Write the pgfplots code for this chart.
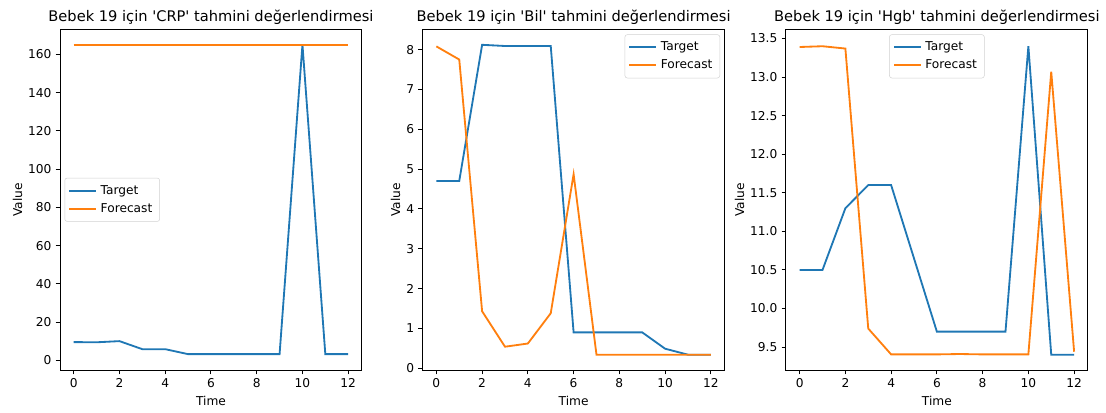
\documentclass[border=0pt]{standalone}
\usepackage{pgfplots}
\pgfplotsset{compat=1.18}
\usepackage{fontspec}
\setmainfont{DejaVu Sans}
\definecolor{tblue}{HTML}{1F77B4}
\definecolor{torange}{HTML}{FF7F0E}
\newcommand{\q}{\textquotesingle}
\pgfplotsset{
  panel/.style={
    scale only axis, width=247.6pt, height=279.6pt,
    anchor=south west,
    xmin=-0.6, xmax=12.6, xtick={0,2,...,12},
    tick align=outside, major tick length=3.5pt,
    xtick pos=left, ytick pos=left,
    every tick/.style={black, line width=0.8pt},
    axis line style={line width=0.8pt},
    tick label style={font=\fontsize{10}{12}\selectfont},
    /pgf/number format/assume math mode=true,
    label style={font=\fontsize{10}{12}\selectfont},
    xlabel={Time}, ylabel={Value},
    xlabel style={yshift=0pt},
    ylabel style={yshift=-2pt},
    every axis title/.style={font=\fontsize{12}{14}\selectfont, at={(0.5,1)}, anchor=south, yshift=0pt},
    legend cell align=left,
    legend style={draw=black!18, rounded corners=2pt, fill=white, fill opacity=0.8, text opacity=1,
      font=\fontsize{10}{12}\selectfont, inner xsep=3pt, inner ysep=3pt,
      nodes={inner sep=3pt}},
    legend image code/.code={\draw[#1, line width=1.5pt] (0pt,0pt) -- (22pt,0pt);},
    every axis plot/.append style={line width=1.5pt, mark=none},
  }
}
\begin{document}
\begin{tikzpicture}
\useasboundingbox (0,0) rectangle (907pt,338pt);
% CRP
\begin{axis}[panel, at={(49.2pt,34.4pt)},
  ymin=-5.1, ymax=173.1, ytick={0,20,...,160},
  title={Bebek 19 için \q CRP\q{} tahmini değerlendirmesi},
  legend style={at={(0.015,0.5)}, anchor=west}]
\addplot[tblue] coordinates {(0,9.6) (1,9.5) (2,10.1) (3,5.9) (4,5.9) (5,3.3) (6,3.3) (7,3.3) (8,3.3) (9,3.3) (10,165) (11,3.3) (12,3.3)};
\addlegendentry{Target}
\addplot[torange] coordinates {(0,165) (1,165) (2,165) (3,165) (4,165) (5,165) (6,165) (7,165) (8,165) (9,165) (10,165) (11,165) (12,165)};
\addlegendentry{Forecast}
\end{axis}
% Bil
\begin{axis}[panel, at={(346.6pt,34.4pt)},
  ymin=-0.05, ymax=8.51, ytick={0,1,...,8},
  title={Bebek 19 için \q Bil\q{} tahmini değerlendirmesi},
  legend style={at={(0.985,0.985)}, anchor=north east}]
\addplot[tblue] coordinates {(0,4.7) (1,4.7) (2,8.12) (3,8.09) (4,8.09) (5,8.09) (6,0.9) (7,0.9) (8,0.9) (9,0.9) (10,0.49) (11,0.34) (12,0.34)};
\addlegendentry{Target}
\addplot[torange] coordinates {(0,8.08) (1,7.75) (2,1.43) (3,0.54) (4,0.62) (5,1.38) (6,4.87) (7,0.34) (8,0.34) (9,0.34) (10,0.34) (11,0.34) (12,0.34)};
\addlegendentry{Forecast}
\end{axis}
% Hgb
\begin{axis}[panel, at={(644.5pt,34.4pt)},
  ymin=9.2, ymax=13.62, ytick={9.5,10,...,13.5},
  yticklabel style={/pgf/number format/.cd, fixed, fixed zerofill, precision=1},
  title={Bebek 19 için \q Hgb\q{} tahmini değerlendirmesi},
  legend style={at={(0.5,0.985)}, anchor=north}]
\addplot[tblue] coordinates {(0,10.5) (1,10.5) (2,11.3) (3,11.6) (4,11.6) (5,10.65) (6,9.7) (7,9.7) (8,9.7) (9,9.7) (10,13.4) (11,9.4) (12,9.4)};
\addlegendentry{Target}
\addplot[torange] coordinates {(0,13.39) (1,13.4) (2,13.37) (3,9.74) (4,9.405) (5,9.405) (6,9.405) (7,9.41) (8,9.405) (9,9.405) (10,9.405) (11,13.07) (12,9.44)};
\addlegendentry{Forecast}
\end{axis}
\end{tikzpicture}
\end{document}
